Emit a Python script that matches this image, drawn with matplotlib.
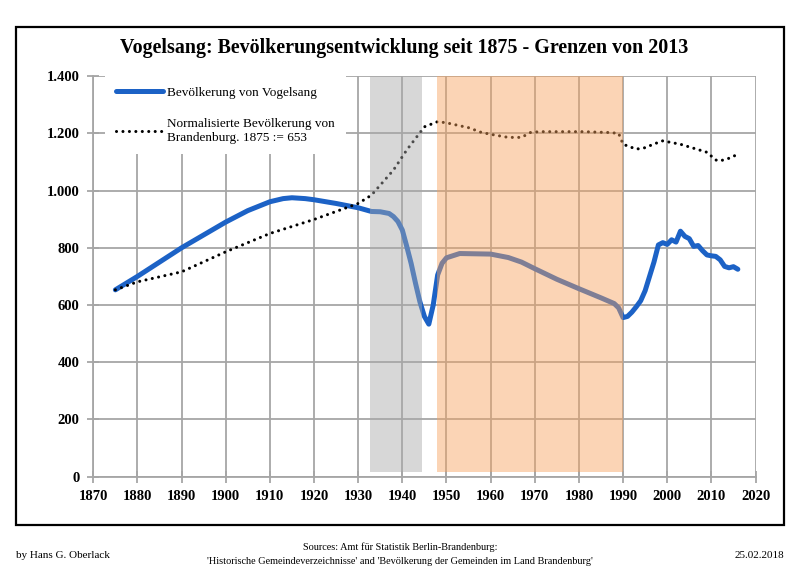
import matplotlib
matplotlib.use("Agg")
import matplotlib.pyplot as plt
from matplotlib.lines import Line2D
from matplotlib.patches import Rectangle

plt.rcParams['font.family'] = ['Liberation Serif', 'DejaVu Serif']

# --- data -------------------------------------------------------------
years_vog = [1875, 1880, 1885, 1890, 1895, 1900, 1905, 1910, 1913, 1915,
             1918, 1920, 1925, 1930, 1933, 1935, 1937, 1938, 1939, 1940,
             1941, 1942, 1943, 1944, 1945, 1946, 1947, 1948, 1949, 1950,
             1953, 1960, 1964, 1967, 1970, 1975, 1980, 1985, 1988, 1989,
             1990, 1991, 1992, 1993, 1994, 1995, 1996, 1997, 1998, 1999,
             2000, 2001, 2002, 2003, 2004, 2005, 2006, 2007, 2008, 2009,
             2010, 2011, 2012, 2013, 2014, 2015, 2016]
pop_vog = [653, 700, 750, 800, 845, 890, 930, 961, 972, 975,
           972, 968, 955, 940, 927, 926, 920, 909, 892, 862,
           805, 745, 675, 610, 560, 533, 600, 705, 746, 765,
           780, 778, 766, 750, 727, 690, 657, 625, 605, 590,
           556, 560, 575, 594, 615, 650, 700, 750, 810, 818,
           812, 828, 820, 858, 840, 832, 805, 808, 790, 775,
           772, 770, 758, 735, 730, 734, 725]

years_bb = [1875, 1880, 1890, 1900, 1910, 1920, 1930, 1933, 1938, 1941,
            1945, 1948, 1950, 1955, 1958, 1961, 1964, 1967, 1969, 1971,
            1981, 1987, 1989, 1990, 1993, 1995, 1997, 1999, 2000, 2003,
            2006, 2009, 2011, 2012, 2014, 2016]
pop_bb = [653, 681, 716, 786, 850, 899, 955, 984, 1072, 1142,
          1223, 1241, 1237, 1220, 1203, 1194, 1186, 1186, 1203, 1206,
          1206, 1203, 1200, 1162, 1145, 1150, 1163, 1174, 1171, 1162,
          1148, 1134, 1107, 1104, 1113, 1127]

shade_gray = (1932.7, 1944.5)
shade_orange = (1947.9, 1990.0)

x_ticks = list(range(1870, 2021, 10))
y_ticks = list(range(0, 1401, 200))
y_labels = ['{:,}'.format(v).replace(',', '.') for v in y_ticks]

title = "Vogelsang: Bevölkerungsentwicklung seit 1875 - Grenzen von 2013"
leg1 = "Bevölkerung von Vogelsang"
leg2 = "Normalisierte Bevölkerung von\nBrandenburg. 1875 := 653"

# --- figure -----------------------------------------------------------
fig = plt.figure(figsize=(8, 5.66), dpi=100)
fig.patch.set_facecolor('white')

frame = Rectangle((16 / 800, 1 - 525 / 566), 768 / 800, 498 / 566,
                  transform=fig.transFigure, fill=False, lw=1.6,
                  edgecolor='black', zorder=0)
fig.patches.append(frame)

ax = fig.add_axes([93.3 / 800, 1 - 476.6 / 566, 662.2 / 800, 400.4 / 566])
ax.set_xlim(1870, 2020)
ax.set_ylim(0, 1400)

grid_col = '#a6a6a6'
ax.grid(True, color=grid_col, lw=1.3, zorder=0)
ax.set_axisbelow(True)
for s in ['top', 'right']:
    ax.spines[s].set_visible(False)
for s in ['left', 'bottom']:
    ax.spines[s].set_color(grid_col)
    ax.spines[s].set_linewidth(1.3)

ax.set_xticks(x_ticks)
ax.set_yticks(y_ticks)
ax.set_yticklabels(y_labels)
ax.tick_params(axis='both', direction='inout', length=8, width=1.3,
               color=grid_col, labelsize=10.5)
ax.tick_params(axis='x', pad=6)
ax.tick_params(axis='y', pad=6)
for lab in ax.get_xticklabels() + ax.get_yticklabels():
    lab.set_fontweight('bold')

blue = '#1c62c6'
ax.plot(years_vog, pop_vog, color=blue, lw=3.6, solid_capstyle='round',
        solid_joinstyle='round', zorder=3)
ax.plot(years_bb, pop_bb, color='black', lw=2.2,
        linestyle=(0, (0.01, 2.1)), dash_capstyle='round', zorder=3)

ax.fill_between(shade_gray, 15, 1400, color='#a8a8a8', alpha=0.45,
                lw=0, zorder=5)
ax.fill_between(shade_orange, 15, 1400, color='#f8a15b', alpha=0.45,
                lw=0, zorder=5)

handles = [Line2D([], [], color=blue, lw=3.6, solid_capstyle='round'),
           Line2D([], [], color='black', lw=2.2, linestyle=(0, (0.01, 2.1)),
                  dash_capstyle='round')]
leg = ax.legend(handles, [leg1, leg2], loc='upper left',
                bbox_to_anchor=(0.018, 1.0), borderaxespad=0,
                fontsize=9.5, handlelength=3.6, handletextpad=0.3,
                labelspacing=1.45, borderpad=0.8, frameon=True,
                fancybox=False)
leg.get_frame().set_facecolor('white')
leg.get_frame().set_edgecolor('none')
leg.get_frame().set_alpha(1)
leg.set_zorder(6)

fig.text(0.505, 1 - 48 / 566, title, ha='center', va='center',
         fontsize=14.4, fontweight='bold')

fig.text(16 / 800, 1 - 556 / 566, "by Hans G. Oberlack", ha='left',
         va='center', fontsize=8)
fig.text(0.5, 1 - 547 / 566, "Sources: Amt für Statistik Berlin-Brandenburg:",
         ha='center', va='center', fontsize=7.4)
fig.text(0.5, 1 - 561 / 566,
         "'Historische Gemeindeverzeichnisse' and 'Bevölkerung der Gemeinden im Land Brandenburg'",
         ha='center', va='center', fontsize=7.4)
fig.text(784 / 800, 1 - 556 / 566, "25.02.2018", ha='right', va='center',
         fontsize=8)

fig.savefig('out.png', dpi=100)
